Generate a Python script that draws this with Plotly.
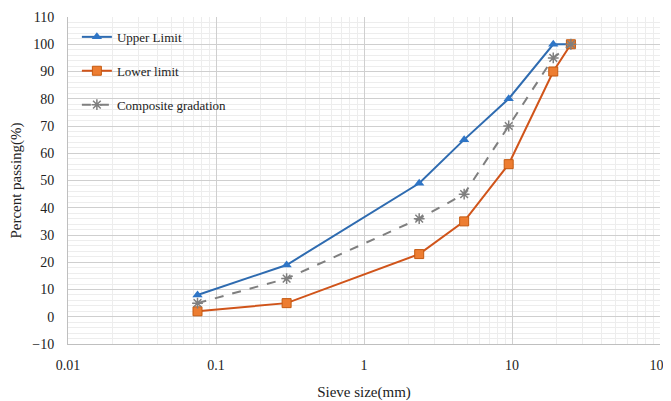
import plotly.graph_objects as go

sieve = [0.075, 0.3, 2.36, 4.75, 9.5, 19, 25]
upper = [8, 19, 49, 65, 80, 100, 100]
lower = [2, 5, 23, 35, 56, 90, 100]
composite = [5, 14, 36, 45, 70, 95, 100]
x_ticks = [0.01, 0.1, 1, 10, 100]
x_ticktext = ["0.01", "0.1", "1", "10", "100"]

font = "Liberation Serif, Times New Roman, serif"
fig = go.Figure()
fig.add_trace(go.Scatter(x=sieve, y=upper, name="Upper Limit", mode="lines+markers",
                         line=dict(color="#2E6BB0", width=2),
                         marker=dict(symbol="triangle-up", size=9, color="#2E75C6"),
                         legendgroup="a"))
fig.add_trace(go.Scatter(x=sieve, y=lower, name="Lower limit", mode="lines+markers",
                         line=dict(color="#D0541A", width=2),
                         marker=dict(symbol="square", size=9, color="#ED7D31",
                                     line=dict(color="#C55A11", width=1)),
                         legendgroup="b"))
fig.add_trace(go.Scatter(x=sieve, y=composite, name="Composite gradation", mode="lines+markers",
                         line=dict(color="#7F7F7F", width=2, dash="dash"),
                         marker=dict(symbol="asterisk-open", size=9, color="#7F7F7F",
                                     line=dict(color="#7F7F7F", width=1.5)),
                         legendgroup="c"))

fig.update_layout(
    width=663, height=393,
    margin=dict(l=60, r=11, t=9, b=57),
    paper_bgcolor="white", plot_bgcolor="white",
    font=dict(family=font, size=14, color="#222"),
    legend=dict(x=0.015, y=0.985, xanchor="left", yanchor="top",
                bgcolor="rgba(255,255,255,0)", font=dict(size=13, family=font),
                tracegroupgap=14),
    xaxis=dict(type="log", range=[-2, 2], tickvals=x_ticks, ticktext=x_ticktext,
               automargin=False, ticklabelstandoff=8,
               showgrid=True, gridcolor="#CFCFCF", gridwidth=1,
               minor=dict(showgrid=True, gridcolor="#EDEDED", dtick="D1"),
               showline=True, linecolor="#BFBFBF", zeroline=False, ticks="",
               tickfont=dict(size=14),
               title=dict(text="Sieve size(mm)", font=dict(size=15, family=font), standoff=18)),
    yaxis=dict(range=[-10, 110], dtick=10, showgrid=True, gridcolor="#CFCFCF",
               automargin=False, ticklabelstandoff=10,
               minor=dict(showgrid=True, gridcolor="#EDEDED", dtick=2),
               showline=True, linecolor="#BFBFBF", zeroline=False, ticks="",
               tickfont=dict(size=14),
               title=dict(text="Percent passing(%)", font=dict(size=15, family=font), standoff=10)),
)
fig.write_html("out.html")
